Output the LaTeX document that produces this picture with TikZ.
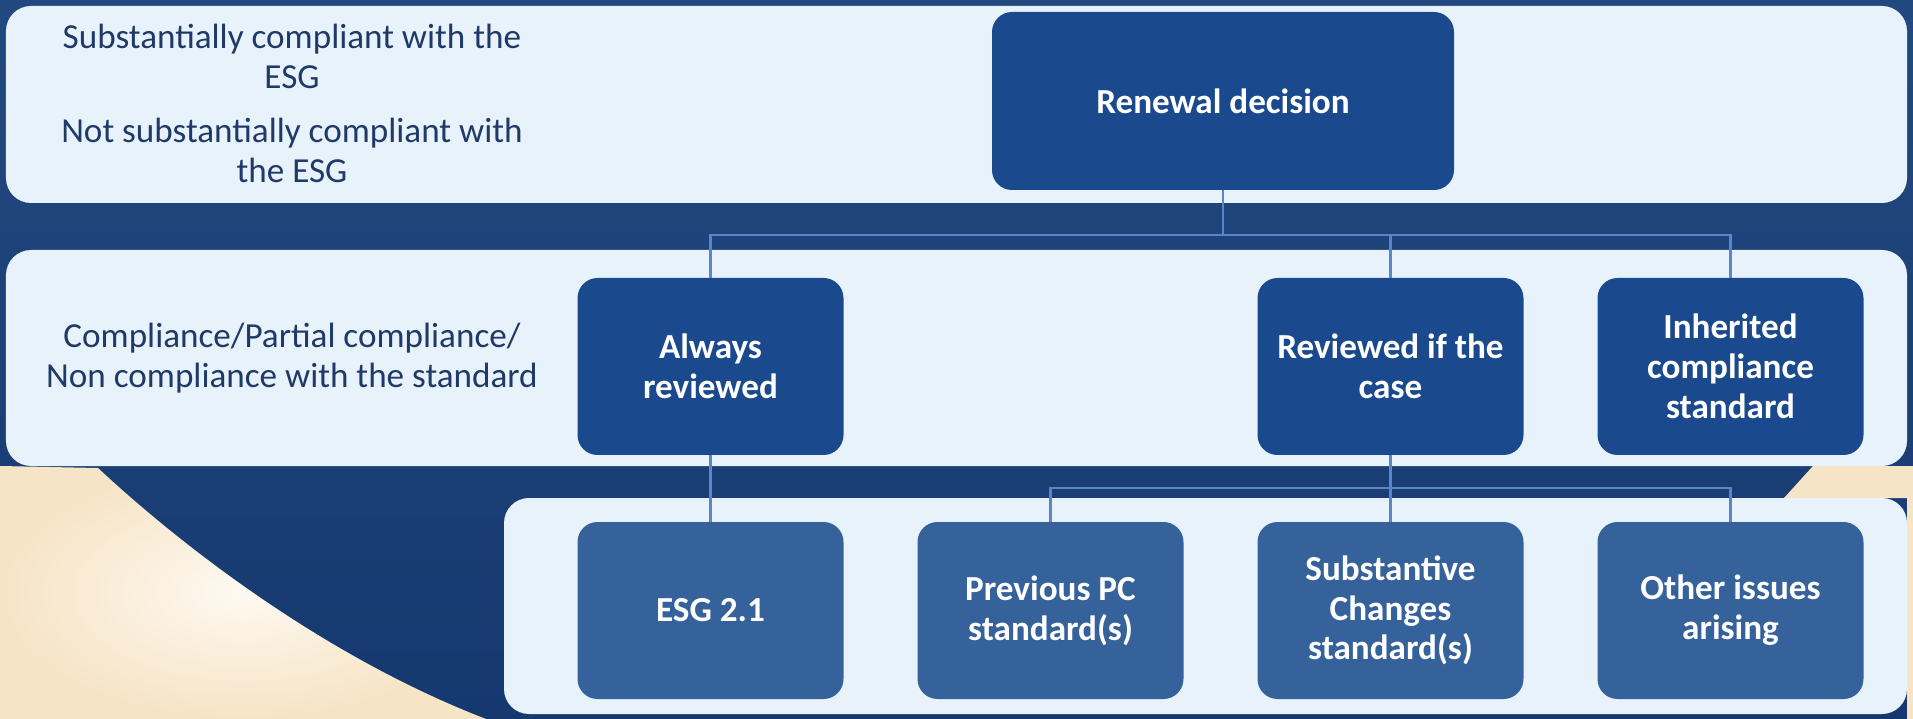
\documentclass[tikz,border=0pt]{standalone}
\usepackage{fontspec}
\setmainfont{Carlito}
\usetikzlibrary{positioning,calc}

\definecolor{navytop}{HTML}{22497F}
\definecolor{navybot}{HTML}{15386F}
\definecolor{beige}{HTML}{F6E4C6}
\definecolor{beigelight}{HTML}{FEF9F1}
\definecolor{bandbg}{HTML}{E8F2FA}
\definecolor{darkbox}{HTML}{1A4A8D}
\definecolor{lightbox}{HTML}{36629C}
\definecolor{linkblue}{HTML}{5A86C9}
\definecolor{sidenavy}{HTML}{1F3A68}

\begin{document}
\begin{tikzpicture}[
    every node/.style={font=\fontsize{10}{11.3}\selectfont, inner sep=0pt, outer sep=0pt},
    band/.style={rectangle, fill=bandbg, rounded corners=0.25cm, anchor=north west},
    topbox/.style={rectangle, fill=darkbox, rounded corners=0.2cm, minimum width=2.66cm, minimum height=1.77cm, text=white, align=center, font=\fontsize{10}{11.3}\selectfont\bfseries},
    subbox/.style={topbox, fill=lightbox},
    sidetext/.style={text=sidenavy, align=center},
    link/.style={draw=linkblue, line width=0.8pt}
]
\useasboundingbox (0,0) rectangle (19.13,-7.19);

% Background
\shade[top color=navytop, bottom color=navybot] (0,0) rectangle (19.13,-7.19);
\shade[inner color=beigelight, outer color=beige] (0,-4.66) -- (0.98,-4.68) .. controls (1.75,-5.4) and (3.2,-6.55) .. (4.86,-7.19) -- (0,-7.19) -- cycle;
\fill[beige] (18.13,-4.66) -- (17.84,-4.98) -- (19.13,-4.98) -- (19.13,-4.66) -- cycle;
\fill[beige] (19.07,-4.66) rectangle (19.13,-7.19);

% Bands
\node[band, minimum width=19.01cm, minimum height=1.97cm] (bandtop) at (0.06,-0.06) {};
\node[band, minimum width=19.01cm, minimum height=2.16cm] (bandmid) at (0.06,-2.50) {};
\node[band, minimum width=14.03cm, minimum height=2.16cm] (bandlow) at (5.04,-4.98) {};

% Side texts
\node[sidetext] (esgyes) at (2.92,-0.565) {Substantially compliant with the\\ESG};
\node[sidetext] (esgno) at (2.92,-1.505) {Not substantially compliant with\\the ESG};
\node[sidetext] (stdlevel) at (2.92,-3.58) {Compliance/Partial compliance/\\Non compliance with the standard};

% Renewal decision
\node[topbox, minimum width=4.62cm, minimum height=1.78cm] (renewal) at (12.23,-1.01) {Renewal decision};

% Standards row
\node[subbox] (esg) at (7.105,-6.105) {ESG 2.1};
\node[subbox, right=0.74cm of esg] (prevpc) {Previous PC\\standard(s)};
\node[subbox, right=0.74cm of prevpc] (subchg) {Substantive\\Changes\\standard(s)};
\node[subbox, right=0.74cm of subchg] (other) {Other issues\\arising};

% Review row
\node[topbox, above=0.67cm of esg] (always) {Always\\reviewed};
\node[topbox, above=0.67cm of subchg] (reviewed) {Reviewed if the\\case};
\node[topbox, above=0.67cm of other] (inherited) {Inherited\\compliance\\standard};

% Connectors
\coordinate[below=0.45cm of renewal] (hubtop);
\coordinate[below=0.33cm of reviewed] (hublow);
\draw[link] (renewal) -- (hubtop);
\draw[link] (hubtop) -| (always);
\draw[link] (hubtop) -| (reviewed);
\draw[link] (hubtop) -| (inherited);
\draw[link] (always) -- (esg);
\draw[link] (reviewed) -- (hublow);
\draw[link] (hublow) -| (prevpc);
\draw[link] (hublow) -- (subchg);
\draw[link] (hublow) -| (other);

\end{tikzpicture}
\end{document}
